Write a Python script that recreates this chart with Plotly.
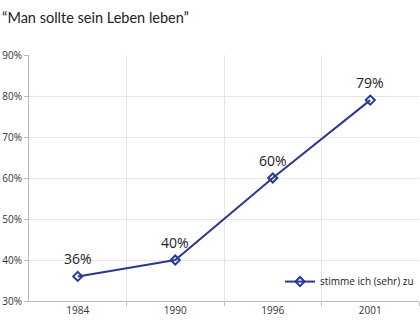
import plotly.graph_objects as go

years = ["1984", "1990", "1996", "2001"]
values = [36, 40, 60, 79]
labels = ["36%", "40%", "60%", "79%"]
series_name = "stimme ich (sehr) zu"
title = "“Man sollte sein Leben leben”"

xs = list(range(len(years)))
fig = go.Figure()
fig.add_trace(go.Scatter(
    x=xs, y=values, mode="lines+markers", name=series_name,
    line=dict(color="#2B3990", width=2),
    marker=dict(symbol="diamond-open", size=7, color="#2B3990", line=dict(width=2)),
))
for x, v, t in zip(xs, values, labels):
    fig.add_annotation(x=x, y=v, text=t, showarrow=False, yshift=18,
                       font=dict(size=14, color="#222222", family="Open Sans"))
fig.update_layout(
    width=420, height=323,
    margin=dict(l=29, r=1, t=55, b=22),
    paper_bgcolor="white", plot_bgcolor="white",
    font=dict(family="Open Sans", color="#333333", size=10),
    title=dict(text=title, x=0.005, xanchor="left", y=0.945, yanchor="middle",
               font=dict(size=14.5, color="#222222", family="Lato")),
    showlegend=True,
    legend=dict(x=1.0, y=0.02, xanchor="right", yanchor="bottom",
                bgcolor="rgba(0,0,0,0)", font=dict(size=10, color="#222222")),
    xaxis=dict(range=[-0.5, 3.5], tickvals=xs, ticktext=years, showgrid=False,
               showline=True, linecolor="#bbbbbb", ticks="", zeroline=False,
               tickfont=dict(size=10, color="#333333"),
               minor=dict(tickvals=[0.5, 1.5, 2.5, 3.5], showgrid=True,
                          gridcolor="#e6e6e6", ticks="outside", ticklen=4,
                          tickcolor="#bbbbbb")),
    yaxis=dict(range=[30, 90], tickvals=[30, 40, 50, 60, 70, 80, 90],
               ticktext=["30%", "40%", "50%", "60%", "70%", "80%", "90%"],
               showgrid=True, gridcolor="#e6e6e6", showline=True,
               linecolor="#bbbbbb", ticks="outside", ticklen=4, tickcolor="#bbbbbb",
               zeroline=False, tickfont=dict(size=10, color="#333333")),
)
fig.write_html("out.html")
